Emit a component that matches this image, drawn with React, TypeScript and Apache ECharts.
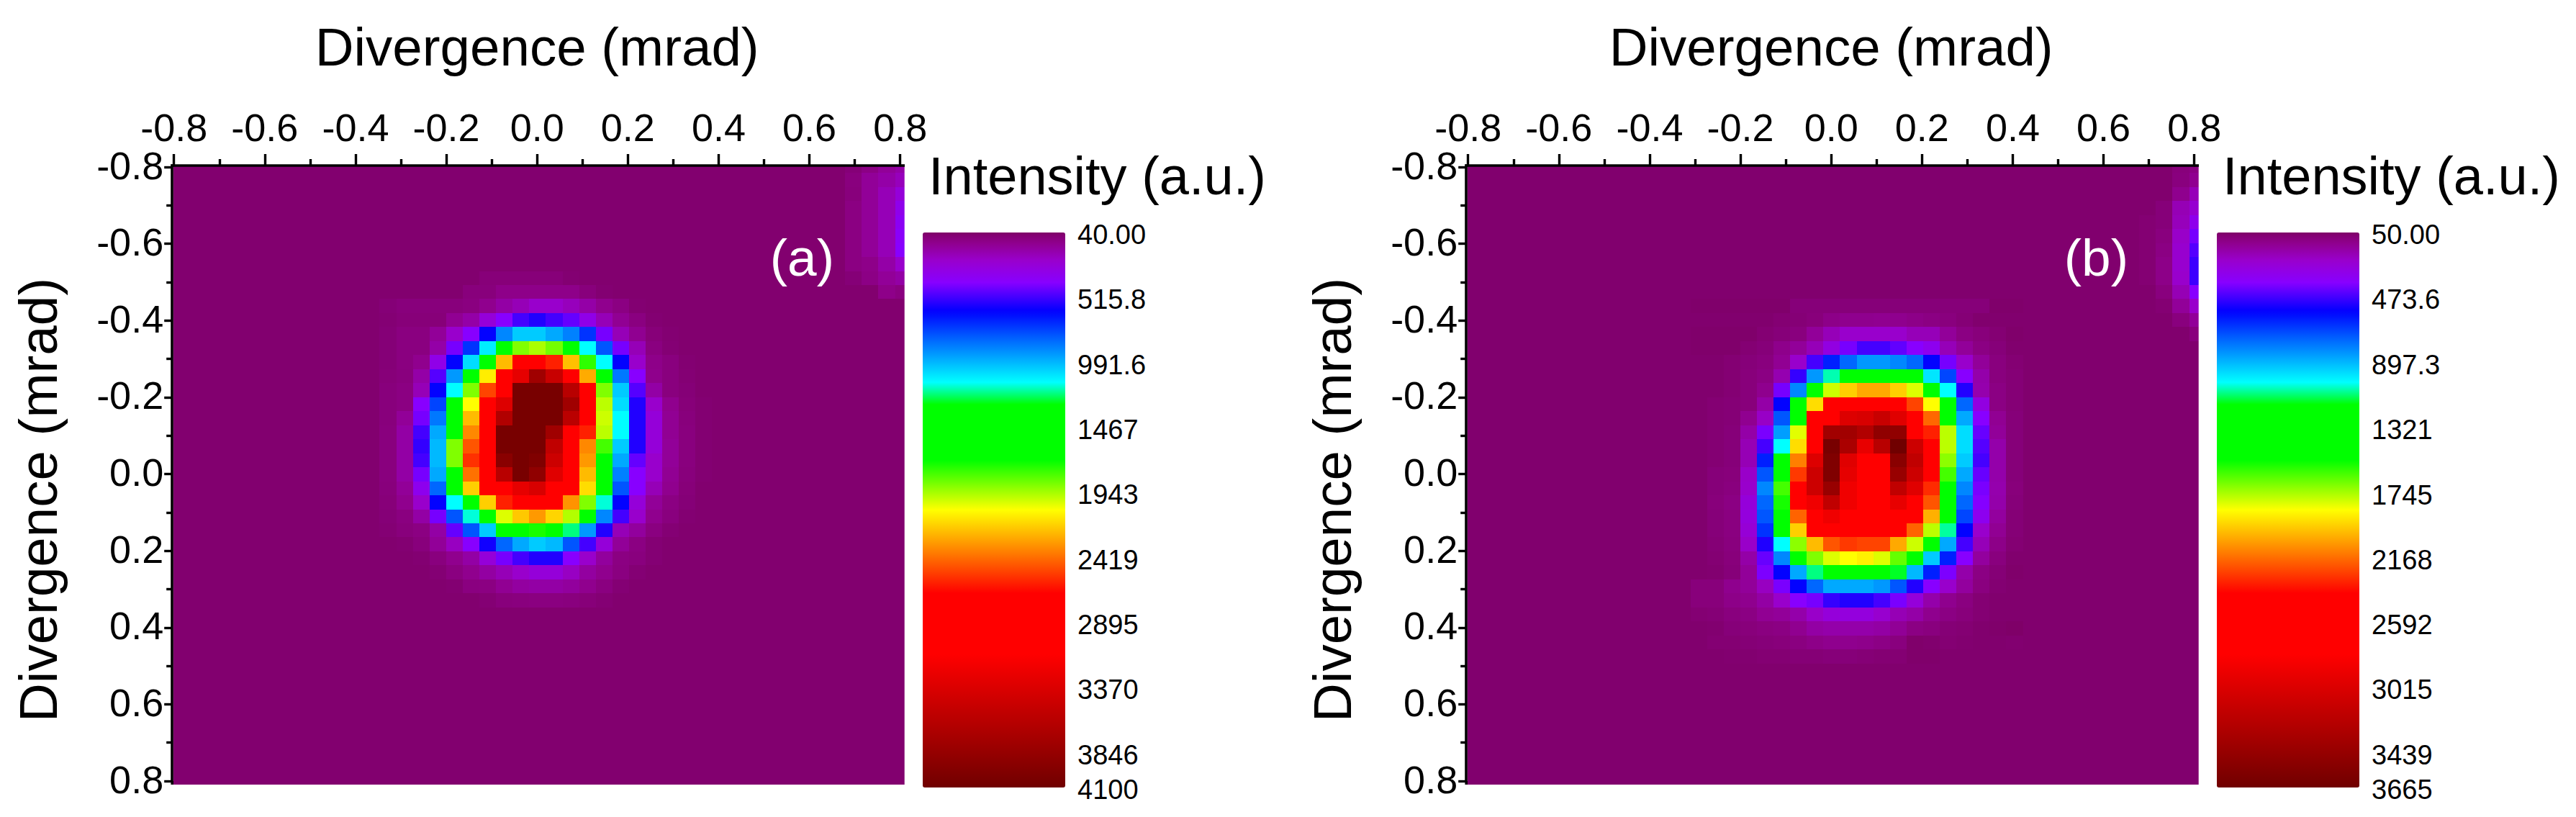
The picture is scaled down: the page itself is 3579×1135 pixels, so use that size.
import React, { useEffect, useRef } from "react";
import * as echarts from "echarts";

// ---- tick labels ----
const barLabelsA = ["40.00", "515.8", "991.6", "1467", "1943", "2419", "2895", "3370", "3846", "4100"];
const barLabelsB = ["50.00", "473.6", "897.3", "1321", "1745", "2168", "2592", "3015", "3439", "3665"];

// ---- palette (position along colour bar, colour) ----
const paletteStops: [number, number[]][] = [
  [0, [127, 0, 104]],
  [0.02, [144, 0, 143]],
  [0.05, [153, 0, 204]],
  [0.09, [136, 0, 255]],
  [0.142, [0, 0, 255]],
  [0.27, [0, 255, 255]],
  [0.31, [0, 255, 0]],
  [0.41, [0, 255, 0]],
  [0.5, [255, 255, 0]],
  [0.65, [255, 0, 0]],
  [0.76, [255, 0, 0]],
  [1, [112, 0, 0]],
];

// ---- panel (a): background level, spot rows (from row 8, from column 13), corner glow ----
const backgroundA = 55;
const spotFirstRowA = 8;
const spotFirstColA = 13;
const spotA = [
  [55,55,55,55,55,55,75,75,75,75,75,60,55,55,55,55,55,55,55,55],
  [55,55,55,55,55,80,80,110,110,110,110,110,80,60,55,55,55,55,55,55],
  [70,80,80,80,80,90,120,165,200,243,243,210,170,120,95,60,55,55,55,55],
  [65,75,75,75,130,170,284,405,511,564,511,460,330,200,130,90,60,55,55,55],
  [70,90,90,140,243,405,616,893,1030,1030,962,880,720,432,200,125,75,60,55,55],
  [70,90,90,170,432,720,1100,1500,1887,1948,1870,1500,1136,790,432,200,90,65,55,55],
  [70,90,120,330,616,1067,1500,2232,2900,2900,2602,2220,1770,1136,616,243,110,85,60,55],
  [75,85,170,485,930,1500,2110,2900,3296,3772,3500,2900,2270,1500,860,405,115,85,65,55],
  [80,95,200,616,1136,1887,2517,2900,4044,4044,4044,3613,2900,1887,1030,485,165,85,70,55],
  [80,95,405,755,1500,2070,2900,3357,4044,4044,4044,3772,2900,1973,1067,564,243,120,75,60],
  [80,140,432,860,1500,2232,2900,3662,4044,4044,4044,3590,2900,1997,1136,564,284,130,80,60],
  [85,165,511,962,1500,2354,2900,4044,4044,4044,3772,2900,2602,1973,1136,564,284,130,85,60],
  [85,165,537,995,1887,2476,2900,4044,4044,4044,3554,2900,2354,1802,1030,564,284,140,85,60],
  [85,165,511,995,1887,2563,2900,3934,4044,3990,3473,2900,2314,1500,962,460,243,140,85,60],
  [85,165,432,962,1500,2411,2900,3613,4044,3881,3337,2900,2232,1500,880,405,243,130,80,60],
  [80,140,350,825,1500,2183,2900,2900,3296,3392,2900,2900,2151,1500,790,405,200,120,75,55],
  [75,120,243,616,1136,1500,2183,2602,2900,2900,2900,2330,1887,1160,616,284,140,95,70,55],
  [70,90,165,432,790,1160,1500,2021,2200,2314,2170,1960,1500,893,511,243,120,85,60,55],
  [65,80,95,165,460,790,1030,1300,1500,1740,1500,1218,930,564,200,150,90,65,55,55],
  [55,60,80,140,220,405,590,825,962,1030,995,790,511,284,140,95,65,55,55,55],
  [55,55,60,85,120,165,284,432,511,564,564,405,243,150,95,85,65,55,55,55],
  [55,55,55,65,90,120,160,200,243,284,284,225,155,120,90,65,55,55,55,55],
  [55,55,55,55,60,90,95,130,155,165,165,150,120,90,65,55,55,55,55,55],
  [55,55,55,55,55,55,65,80,85,90,90,85,75,65,55,55,55,55,55,55],
];
const cornerCol41A = [70, 85, 80, 95, 95, 95, 95, 95, 70];
const cornerCol42A = [100, 140, 140, 140, 140, 140, 140, 110, 100];
const cornerCol43A = [140, 170, 200, 200, 200, 200, 200, 170, 140, 110];
const cornerCol44A = [170, 210, 284, 340, 370, 390, 405, 243, 165, 90];

// ---- panel (b) ----
const backgroundB = 60;
const spotFirstRowB = 10;
const spotFirstColB = 14;
const spotB = [
  [55,55,55,55,55,55,80,80,80,80,80,80,80,80,80,80,80,80,55,55],
  [60,60,60,60,60,70,75,85,110,120,120,125,120,110,100,90,75,60,60,60],
  [55,55,55,55,70,80,90,140,195,231,231,231,231,195,195,140,100,85,70,55],
  [55,55,55,70,80,115,140,195,290,399,469,469,430,375,330,195,140,100,80,60],
  [60,60,70,80,90,130,231,469,620,750,840,840,809,750,563,399,231,140,90,70],
  [60,60,70,85,100,180,490,840,1070,1350,1350,1350,1350,1230,980,690,375,170,90,75],
  [60,60,70,85,120,399,809,1350,1793,1959,2040,2040,1959,1814,1350,1026,516,175,100,75],
  [60,70,75,85,165,563,1350,1930,2750,2750,2750,2750,2750,2255,1857,1350,750,290,100,75],
  [60,70,75,125,220,719,1350,2750,2750,3003,3034,3130,2985,2750,2180,1500,871,375,130,80],
  [60,70,80,165,395,850,1820,2750,3372,3372,3275,3470,3470,2750,2331,1771,965,420,140,80],
  [60,70,80,190,469,1026,1930,2750,3614,3313,2936,3231,3665,3107,2750,1771,965,446,170,80],
  [60,70,80,190,620,1350,2130,3003,3567,2985,2750,2750,3517,3179,2750,1710,932,469,170,80],
  [60,80,85,225,719,1350,2280,3107,3567,2949,2750,2750,3423,3107,2750,1619,871,420,170,80],
  [60,80,90,231,809,1619,2750,3107,3423,2888,2750,2750,3179,2985,2310,1350,809,395,175,85],
  [60,85,100,270,750,1560,2750,2888,3179,2888,2750,2750,2936,2750,2219,1350,750,380,170,80],
  [60,80,95,280,719,1350,2190,2750,2888,2750,2750,2750,2750,2750,2025,1350,690,330,150,75],
  [60,80,95,260,656,1350,1959,2750,2750,2750,2750,2750,2750,2190,1771,1080,563,231,130,75],
  [60,75,90,225,520,1026,1710,2002,2219,2280,2255,2255,2040,1793,1350,871,469,195,110,70],
  [60,70,85,165,420,809,1350,1695,1814,1857,1890,1814,1660,1350,932,620,375,150,90,60],
  [60,65,80,140,390,563,871,1098,1350,1350,1350,1350,1150,900,620,390,170,100,75,55],
  [85,85,120,140,210,395,563,750,871,871,871,840,719,516,375,231,150,93,68,60],
  [85,85,110,120,160,231,375,399,490,516,516,469,395,270,170,120,95,70,60,60],
  [70,75,90,100,130,140,170,225,270,280,280,240,190,165,120,100,85,70,60,60],
  [60,65,80,85,95,100,125,160,170,170,170,160,135,100,90,75,70,60,55,50],
  [60,70,70,75,80,85,95,110,120,120,115,105,90,55,60,70,65,60,60,65],
  [60,60,65,65,70,70,75,75,80,80,75,70,70,55,55,60,60,60,60,60],
];
const cornerCol41B = [60, 60, 60, 60, 70, 70, 70, 70, 70];
const cornerCol42B = [60, 60, 60, 80, 80, 90, 100, 110, 110, 90, 70];
const cornerCol43B = [85, 90, 120, 190, 200, 225, 240, 240, 230, 190, 140, 90];
const cornerCol44B = [100, 125, 195, 245, 320, 399, 446, 480, 480, 375, 231, 140, 90];

// ---- cell lattice of the measured maps, in axis units ----
const cellCount = 45;
const cellStartX = -0.8047;
const cellStepX = 0.03663;
const cellStartY = -0.8028;
const cellStepY = 0.03652;

function buildCells(
  background: number,
  spot: number[][],
  firstRow: number,
  firstCol: number,
  corner: number[][],
): number[][] {
  const grid: number[][] = [];
  for (let j = 0; j < cellCount; j++) grid.push(new Array(cellCount).fill(background));
  spot.forEach((row, r) => row.forEach((v, c) => { grid[firstRow + r][firstCol + c] = v; }));
  corner.forEach((col, k) => col.forEach((v, r) => { grid[r][41 + k] = v; }));
  const out: number[][] = [];
  for (let j = 0; j < cellCount; j++) {
    for (let i = 0; i < cellCount; i++) {
      out.push([cellStartX + i * cellStepX, cellStartY + j * cellStepY, grid[j][i]]);
    }
  }
  return out;
}

function paletteAt(t: number): string {
  for (let k = 1; k < paletteStops.length; k++) {
    const [t0, c0] = paletteStops[k - 1];
    const [t1, c1] = paletteStops[k];
    if (t <= t1) {
      const f = (t - t0) / (t1 - t0);
      const m = c0.map((c, idx) => Math.round(c + (c1[idx] - c) * f));
      return `rgb(${m[0]},${m[1]},${m[2]})`;
    }
  }
  return "rgb(112,0,0)";
}
const paletteColors: string[] = [];
for (let k = 0; k <= 200; k++) paletteColors.push(paletteAt(k / 200));

const FONT = "'Liberation Sans', Arial, sans-serif";

function renderCell(params: any, api: any) {
  const xv = api.value(0);
  const yv = api.value(1);
  const c = api.coord([xv, yv]);
  const s = api.size([cellStepX, cellStepY], [xv, yv]);
  const x0 = Math.round(c[0] - s[0] / 2);
  const x1 = Math.round(c[0] + s[0] / 2);
  const y0 = Math.round(c[1] - s[1] / 2);
  const y1 = Math.round(c[1] + s[1] / 2);
  const cs = params.coordSys;
  const rect = echarts.graphic.clipRectByRect(
    { x: x0, y: y0, width: x1 - x0, height: y1 - y0 },
    { x: cs.x - 1, y: cs.y - 2, width: cs.width + 7, height: cs.height + 7 },
  );
  if (!rect) return null;
  return { type: "rect", shape: rect, style: { fill: api.visual("color") } };
}

function fmtTick(v: number) {
  return Math.abs(v) < 1e-9 ? "0.0" : v.toFixed(1);
}

function buildOption() {
  const panels = [
    { dx: 0, labels: barLabelsA, tag: "(a)", data: buildCells(backgroundA, spotA, spotFirstRowA, spotFirstColA, [cornerCol41A, cornerCol42A, cornerCol43A, cornerCol44A]) },
    { dx: 1798, labels: barLabelsB, tag: "(b)", data: buildCells(backgroundB, spotB, spotFirstRowB, spotFirstColB, [cornerCol41B, cornerCol42B, cornerCol43B, cornerCol44B]) },
  ];
  const grid: any[] = [];
  const xAxis: any[] = [];
  const yAxis: any[] = [];
  const series: any[] = [];
  const visualMap: any[] = [];
  const title: any[] = [];
  const graphic: any[] = [];

  panels.forEach((p, idx) => {
    const left = 241.7 + p.dx;
    const width = 1009;
    const top = 232;
    const height = 853;
    const barLeft = 1282 + p.dx;
    const barTop = 323;
    const barH = 771;
    const barW = 198;
    const values = p.labels.map(Number);
    const lo = values[0];
    const hi = values[values.length - 1];

    grid.push({ left, top, width, height, containLabel: false });
    grid.push({ left: barLeft, top: barTop, width: barW, height: barH, containLabel: false });

    xAxis.push({
      type: "value", gridIndex: idx * 2, position: "top", min: -0.8, max: 0.8, interval: 0.2, offset: 2, z: 5,
      name: "Divergence (mrad)", nameLocation: "middle", nameGap: 127,
      nameTextStyle: { fontFamily: FONT, fontSize: 74.5, color: "#000" },
      axisLine: { show: true, onZero: false, lineStyle: { color: "#000", width: 3.6 } },
      axisTick: { show: true, length: 16, inside: false, lineStyle: { color: "#000", width: 3.4 } },
      minorTick: { show: true, splitNumber: 2, length: 9, lineStyle: { color: "#000", width: 3.4 } },
      splitLine: { show: false }, minorSplitLine: { show: false },
      axisLabel: { show: true, fontFamily: FONT, fontSize: 54, color: "#000", margin: 26, formatter: fmtTick, hideOverlap: false, showMinLabel: true, showMaxLabel: true },
    });
    xAxis.push({ type: "value", gridIndex: idx * 2 + 1, min: 0, max: 1, show: false });

    yAxis.push({
      type: "value", gridIndex: idx * 2, position: "left", inverse: true, min: -0.8, max: 0.8, interval: 0.2, offset: 2.5, z: 5,
      name: "Divergence (mrad)", nameLocation: "middle", nameRotate: 90, nameGap: 148,
      nameTextStyle: { fontFamily: FONT, fontSize: 74.5, color: "#000", padding: [0, 72, 0, 0] },
      axisLine: { show: true, onZero: false, lineStyle: { color: "#000", width: 3.6 } },
      axisTick: { show: true, length: 11, lineStyle: { color: "#000", width: 3.4 } },
      minorTick: { show: true, splitNumber: 2, length: 8, lineStyle: { color: "#000", width: 3.4 } },
      splitLine: { show: false }, minorSplitLine: { show: false },
      axisLabel: { show: true, fontFamily: FONT, fontSize: 54, color: "#000", margin: 12, verticalAlign: "bottom", lineHeight: 5, formatter: fmtTick, hideOverlap: false, showMinLabel: true, showMaxLabel: true },
    });
    yAxis.push({
      type: "value", gridIndex: idx * 2 + 1, position: "right", inverse: true, min: lo, max: hi,
      axisLine: { show: false, onZero: false }, axisTick: { show: false }, splitLine: { show: false },
      axisLabel: {
        show: true, fontFamily: FONT, fontSize: 38, color: "#000", margin: 17, align: "left", verticalAlign: "top", lineHeight: 6,
        customValues: values, hideOverlap: false,
        formatter: (v: number) => p.labels.find((l) => Number(l) === v) ?? String(v),
      },
    });

    series.push({
      type: "custom", name: p.tag, coordinateSystem: "cartesian2d", xAxisIndex: idx * 2, yAxisIndex: idx * 2,
      dimensions: ["x", "y", "intensity"], encode: { x: 0, y: 1 }, data: p.data, renderItem: renderCell, silent: true,
    });

    visualMap.push({
      type: "continuous", seriesIndex: idx, dimension: 2, min: lo, max: hi, show: true, inverse: true,
      left: barLeft, top: barTop, itemWidth: barW, itemHeight: barH, padding: 0, text: ["", ""], showLabel: false,
      calculable: false, realtime: false, hoverLink: false, inRange: { color: paletteColors },
    });

    title.push({
      text: "Intensity (a.u.)", left: 1290 + p.dx, top: 207, padding: 0,
      textStyle: { fontFamily: FONT, fontSize: 74, fontWeight: "normal", color: "#000" },
    });

    graphic.push({
      type: "text", x: 1159 + p.dx, y: 357.5, z: 20,
      style: { text: p.tag, fontFamily: FONT, fontSize: 73, fill: "#fff", align: "right", verticalAlign: "middle" },
    });
    const ext = { stroke: "#000", lineWidth: 3.6 };
    graphic.push({ type: "line", z: 20, shape: { x1: left + width, y1: 230, x2: 1257 + p.dx, y2: 230 }, style: ext });
    graphic.push({ type: "line", z: 20, shape: { x1: left - 2.5, y1: top + height, x2: left - 2.5, y2: 1090 }, style: ext });
    graphic.push({ type: "line", z: 20, shape: { x1: left - 4.3, y1: 230, x2: left, y2: 230 }, style: ext });
    graphic.push({ type: "line", z: 20, shape: { x1: left - 2.5, y1: 228.2, x2: left - 2.5, y2: 232 }, style: ext });
  });

  return { animation: false, backgroundColor: "#fff", grid, xAxis, yAxis, series, visualMap, title, graphic, tooltip: { show: false } };
}

export default function App() {
  const ref = useRef<HTMLDivElement | null>(null);
  useEffect(() => {
    document.body.style.margin = "0";
    const chart = echarts.init(ref.current as HTMLDivElement, undefined, { renderer: "svg" });
    chart.setOption(buildOption() as any);
    return () => chart.dispose();
  }, []);
  return <div ref={ref} style={{ width: 3579, height: 1135 }} />;
}
